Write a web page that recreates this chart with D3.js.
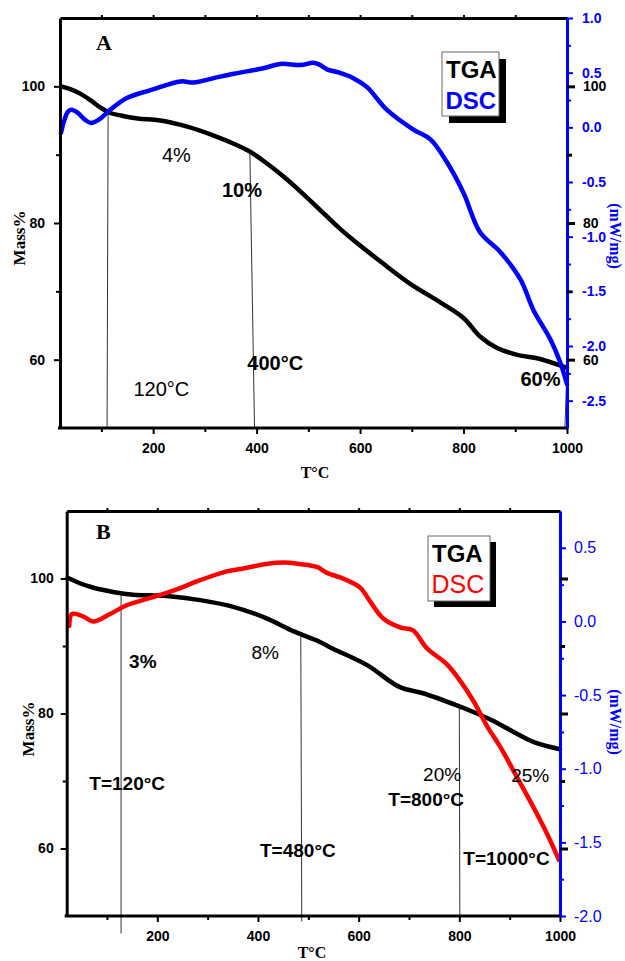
<!DOCTYPE html>
<html>
<head>
<meta charset="utf-8">
<script src="https://cdn.jsdelivr.net/npm/d3@7"></script>
<style>
  body { margin: 0; background: #fff; }
  svg { display: block; }
</style>
</head>
<body>
<script>
// ---------- data ----------
const tempDomain = [20, 1000];
const massDomain = [50, 110];

const xMajorTicks = [200, 400, 600, 800, 1000];
const xMinorTicks = [100, 300, 500, 700, 900];
const xTopTicks = [100, 200, 300, 400, 500, 600, 700, 800, 900];
const massMajorTicks = [100, 80, 60];
const massMinorTicks = [90, 70];

// Sample A — TGA (mass %) and DSC (mW/mg)
const tgaTempA = [22, 40, 60, 80, 100, 117, 140, 170, 214, 266, 317, 356, 388, 420, 452, 485, 523, 562, 600, 639, 697, 755, 800, 832, 865, 904, 948, 981, 1000];
const tgaMassA = [100, 99.6, 98.9, 97.9, 96.8, 96.1, 95.7, 95.3, 95.0, 94.1, 92.8, 91.6, 90.4, 88.7, 86.8, 84.6, 81.9, 79.1, 76.7, 74.4, 71.1, 68.4, 66.1, 63.4, 61.7, 60.7, 60.1, 59.3, 58.8];
const dscTempA = [22, 28, 35, 42, 55, 68, 80, 95, 117, 150, 195, 253, 278, 317, 356, 413, 446, 485, 510, 523, 536, 560, 587, 613, 652, 703, 736, 768, 800, 832, 871, 910, 935, 968, 987, 1000];
const dscValA = [-0.05, 0.06, 0.14, 0.16, 0.13, 0.07, 0.04, 0.07, 0.16, 0.27, 0.34, 0.42, 0.41, 0.45, 0.49, 0.54, 0.58, 0.57, 0.59, 0.57, 0.53, 0.50, 0.45, 0.37, 0.16, -0.02, -0.11, -0.32, -0.60, -0.96, -1.14, -1.39, -1.67, -1.94, -2.15, -2.35];
const dscDomainA = [-2.75, 1.0];
const dscMajorA = [1.0, 0.5, 0.0, -0.5, -1.0, -1.5, -2.0, -2.5];
const dscMinorA = [0.75, 0.25, -0.25, -0.75, -1.25, -1.75, -2.25];

// Sample B — TGA (mass %) and DSC (mW/mg)
const tgaTempB = [22, 46, 70, 86, 112, 152, 219, 285, 351, 417, 470, 523, 549, 616, 682, 728, 795, 835, 870, 900, 947, 1000];
const tgaMassB = [100.1, 99.3, 98.7, 98.4, 98.0, 97.6, 97.4, 96.8, 95.8, 94.1, 92.2, 90.6, 89.6, 87.2, 83.9, 83.0, 81.2, 80.0, 78.8, 77.6, 75.8, 74.7];
const dscTempB = [25, 30, 40, 55, 73, 106, 139, 186, 232, 285, 338, 371, 417, 450, 483, 517, 537, 570, 603, 622, 649, 682, 708, 735, 775, 801, 828, 855, 881, 915, 947, 974, 998];
const dscValB = [-0.03, 0.05, 0.05, 0.03, 0.0, 0.05, 0.11, 0.16, 0.21, 0.28, 0.34, 0.36, 0.39, 0.40, 0.39, 0.37, 0.33, 0.29, 0.23, 0.14, 0.02, -0.04, -0.06, -0.18, -0.29, -0.40, -0.54, -0.71, -0.85, -1.06, -1.26, -1.44, -1.62];
const dscDomainB = [-2.0, 0.75];
const dscMajorB = [0.5, 0.0, -0.5, -1.0, -1.5, -2.0];
const dscMinorB = [0.25, -0.25, -0.75, -1.25, -1.75];

// Step markers: [temp at top, mass at top, temp at bottom, mass at bottom]
const markersA = [[113, 96.2, 111, 50], [387, 90.4, 396, 50], [1000, 58.8, 996, 50]];
const markersB = [[128, 97.8, 128, 47.4], [485, 91.4, 487, 49.2], [800, 81.0, 801, 50]];

// Annotations: [text, temp, mass, bold]
const notesA = [["4%", 217, 88.9, false], ["10%", 333, 83.8, true], ["120°C", 162, 54.7, false], ["400°C", 382, 58.5, true], ["60%", 910, 56.1, true]];
const notesB = [["3%", 144, 86.7, true], ["8%", 387, 88.1, false], ["T=120°C", 65, 68.7, true], ["T=480°C", 404, 58.7, true], ["20%", 728, 70.0, false], ["T=800°C", 659, 66.3, true], ["25%", 903, 69.9, false], ["T=1000°C", 808, 57.6, true]];

// ---------- drawing ----------
const SANS = "'Liberation Sans', Arial, sans-serif";
const SERIF = "'Liberation Serif', 'Times New Roman', serif";

const svg = d3.select("body").append("svg").attr("width", 625).attr("height", 961);

function styleAxis(sel, color, domainWidth, fontSize, weight) {
  sel.select(".domain").attr("stroke", color).attr("stroke-width", domainWidth);
  sel.selectAll(".tick line").attr("stroke", color).attr("stroke-width", 2);
  sel.selectAll(".tick text").attr("fill", color).attr("font-family", SANS)
    .attr("font-size", fontSize).attr("font-weight", weight);
}

function drawPanel(c) {
  const g = svg.append("g");
  const x = d3.scaleLinear().domain(tempDomain).range([c.left, c.right]);
  const yM = d3.scaleLinear().domain(massDomain).range([c.bottom, c.top]);
  const yD = d3.scaleLinear().domain(c.dscDomain).range([c.bottom, c.top]);

  // thin step markers
  g.selectAll("line.marker").data(c.markers).join("line")
    .attr("class", "marker")
    .attr("x1", d => x(d[0])).attr("y1", d => yM(d[1]))
    .attr("x2", d => x(d[2])).attr("y2", d => yM(d[3]))
    .attr("stroke", "#333").attr("stroke-width", 1);

  const curve = d3.curveCatmullRom.alpha(0.5);
  g.append("path")
    .datum(d3.zip(c.tgaT, c.tgaM))
    .attr("d", d3.line().curve(curve).x(d => x(d[0])).y(d => yM(d[1])))
    .attr("fill", "none").attr("stroke", "#000").attr("stroke-width", 4.5)
    .attr("stroke-linejoin", "round").attr("stroke-linecap", "round");
  g.append("path")
    .datum(d3.zip(c.dscT, c.dscV))
    .attr("d", d3.line().curve(curve).x(d => x(d[0])).y(d => yD(d[1])))
    .attr("fill", "none").attr("stroke", c.dscColor).attr("stroke-width", 4.5)
    .attr("stroke-linejoin", "round").attr("stroke-linecap", "round");

  // axes: bottom
  const bx = g.append("g").attr("transform", `translate(0,${c.bottom})`)
    .call(d3.axisBottom(x).tickValues(xMajorTicks).tickSize(6).tickSizeOuter(0).tickPadding(9).tickFormat(d3.format("d")));
  styleAxis(bx, "#000", 3, 14, "bold");
  bx.select(".domain").attr("d", `M${c.left - 2},0H${c.right}`);
  const bxm = g.append("g").attr("transform", `translate(0,${c.bottom})`)
    .call(d3.axisBottom(x).tickValues(xMinorTicks).tickSize(4).tickFormat(""));
  bxm.select(".domain").remove();
  styleAxis(bxm, "#000", 0, 0, "normal");

  // top
  const tx = g.append("g").attr("transform", `translate(0,${c.top})`)
    .call(d3.axisTop(x).tickValues(xTopTicks).tickSize(3).tickSizeOuter(0).tickFormat(""));
  styleAxis(tx, "#000", 3, 0, "normal");

  // left
  const ly = g.append("g").attr("transform", `translate(${c.left},0)`)
    .call(d3.axisLeft(yM).tickValues(massMajorTicks).tickSize(6).tickSizeOuter(0).tickPadding(c.leftPad).tickFormat(d3.format("d")));
  styleAxis(ly, "#000", 3, 14, "bold");
  const lym = g.append("g").attr("transform", `translate(${c.left},0)`)
    .call(d3.axisLeft(yM).tickValues(massMinorTicks).tickSize(4).tickFormat(""));
  lym.select(".domain").remove();
  styleAxis(lym, "#000", 0, 0, "normal");

  // right: DSC scale (coloured) and mass ticks (black)
  const ry = g.append("g").attr("transform", `translate(${c.right},0)`)
    .call(d3.axisRight(yD).tickValues(c.dscMajor).tickSize(6).tickSizeOuter(0).tickPadding(c.rightPad).tickFormat(d => d.toFixed(1)));
  styleAxis(ry, "#0000ff", 3, c.rightFont, c.rightWeight);
  const rym = g.append("g").attr("transform", `translate(${c.right},0)`)
    .call(d3.axisRight(yD).tickValues(c.dscMinor).tickSize(4).tickFormat(""));
  rym.select(".domain").remove();
  styleAxis(rym, "#0000ff", 0, 0, "normal");

  const rmass = g.append("g").attr("transform", `translate(${c.right},0)`)
    .call(d3.axisRight(yM).tickValues(massMajorTicks).tickSize(8).tickPadding(8)
      .tickFormat(c.rightMassLabels ? d3.format("d") : ""));
  rmass.select(".domain").remove();
  styleAxis(rmass, "#000", 0, 14, "bold");
  rmass.selectAll(".tick line").attr("stroke-width", 3);
  const rmassm = g.append("g").attr("transform", `translate(${c.right},0)`)
    .call(d3.axisRight(yM).tickValues(massMinorTicks).tickSize(5).tickFormat(""));
  rmassm.select(".domain").remove();
  styleAxis(rmassm, "#000", 0, 0, "normal");
  rmassm.selectAll(".tick line").attr("stroke-width", 3);

  // axis titles
  g.append("text").attr("x", c.xTitle[0]).attr("y", c.xTitle[1])
    .attr("text-anchor", "middle").attr("font-family", SERIF).attr("font-weight", "bold")
    .attr("font-size", 16).text("T°C");
  g.append("text").attr("transform", `translate(${c.massTitle[0]},${c.massTitle[1]}) rotate(-90)`)
    .attr("text-anchor", "middle").attr("font-family", SERIF).attr("font-weight", "bold")
    .attr("font-size", 17).text("Mass%");
  g.append("text").attr("transform", `translate(${c.dscTitle[0]},${c.dscTitle[1]}) rotate(90)`)
    .attr("text-anchor", "middle").attr("font-family", SERIF).attr("font-weight", "bold")
    .attr("font-size", 16).attr("fill", "#0000ff").text("(mW/mg)");

  // panel letter
  g.append("text").attr("x", c.letterPos[0]).attr("y", c.letterPos[1])
    .attr("font-family", SERIF).attr("font-weight", "bold").attr("font-size", 22)
    .text(c.letter);

  // annotations
  g.selectAll("text.note").data(c.notes).join("text")
    .attr("class", "note")
    .attr("x", d => x(d[1])).attr("y", d => yM(d[2]))
    .attr("font-family", SANS).attr("font-size", c.noteSize)
    .attr("font-weight", d => d[3] ? "bold" : "normal")
    .text(d => d[0]);

  // legend with drop shadow
  const L = c.legend;
  g.append("rect").attr("x", L.x + L.shadow).attr("y", L.y + L.shadow)
    .attr("width", L.w).attr("height", L.h).attr("fill", "#000");
  g.append("rect").attr("x", L.x).attr("y", L.y).attr("width", L.w).attr("height", L.h)
    .attr("fill", "#fff").attr("stroke", "#666").attr("stroke-width", 1);
  g.append("text").attr("x", L.x + 4).attr("y", L.y + 26)
    .attr("font-family", SANS).attr("font-weight", "bold").attr("font-size", 24)
    .attr("fill", "#000").text("TGA");
  g.append("text").attr("x", L.x + 3.5).attr("y", L.y + 57)
    .attr("font-family", SANS).attr("font-weight", L.dscWeight).attr("font-size", L.dscSize)
    .attr("fill", c.dscColor).text("DSC");
}

drawPanel({
  left: 60, right: 567, top: 18, bottom: 428,
  dscDomain: dscDomainA, dscMajor: dscMajorA, dscMinor: dscMinorA, dscColor: "#0000ff",
  tgaT: tgaTempA, tgaM: tgaMassA, dscT: dscTempA, dscV: dscValA,
  markers: markersA, notes: notesA, noteSize: 20,
  leftPad: 9, rightPad: 9, rightFont: 14, rightWeight: "bold", rightMassLabels: true,
  xTitle: [315, 478], massTitle: [25, 238], dscTitle: [610, 236],
  letter: "A", letterPos: [96, 50],
  legend: { x: 442, y: 52, w: 57, h: 64, shadow: 7, dscWeight: "bold", dscSize: 24 }
});

drawPanel({
  left: 66.7, right: 560, top: 511, bottom: 916,
  dscDomain: dscDomainB, dscMajor: dscMajorB, dscMinor: dscMinorB, dscColor: "#ff0000",
  tgaT: tgaTempB, tgaM: tgaMassB, dscT: dscTempB, dscV: dscValB,
  markers: markersB, notes: notesB, noteSize: 19,
  leftPad: 7, rightPad: 8, rightFont: 16, rightWeight: "normal", rightMassLabels: false,
  xTitle: [312, 958], massTitle: [34, 729], dscTitle: [610, 722],
  letter: "B", letterPos: [96, 539],
  legend: { x: 428, y: 536, w: 62, h: 65, shadow: 6, dscWeight: "normal", dscSize: 25 }
});
</script>
</body>
</html>
